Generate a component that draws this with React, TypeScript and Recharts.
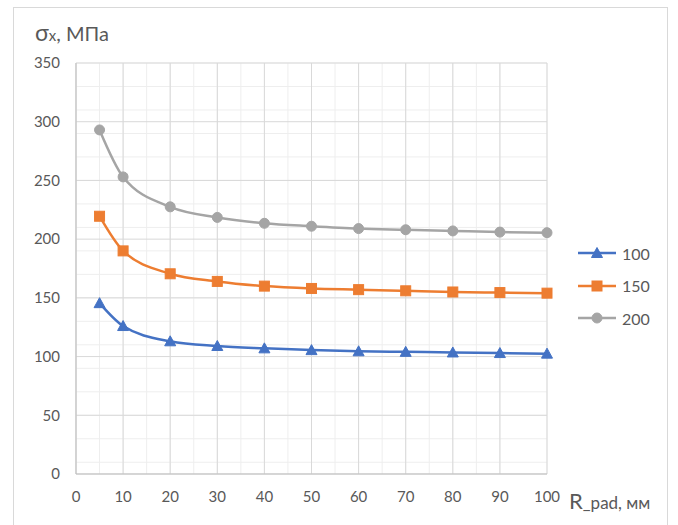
import React from 'react';
import { LineChart, Line, XAxis, YAxis, CartesianGrid } from 'recharts';

const rPad = [5, 10, 20, 30, 40, 50, 60, 70, 80, 90, 100];
const s100 = [145.5, 126, 113, 109, 107, 105.5, 104.5, 104, 103.5, 103, 102.5];
const s150 = [219.5, 190, 170.5, 164, 160, 158, 157, 156, 155, 154.5, 154];
const s200 = [293, 253, 227.5, 218.5, 213.5, 211, 209, 208, 207, 206, 205.5];

const xTicks = [0, 10, 20, 30, 40, 50, 60, 70, 80, 90, 100];
const yTicks = [0, 50, 100, 150, 200, 250, 300, 350];
const xMinor = [0, 5, 10, 15, 20, 25, 30, 35, 40, 45, 50, 55, 60, 65, 70, 75, 80, 85, 90, 95, 100];
const yMinor = [0, 10, 20, 30, 40, 50, 60, 70, 80, 90, 100, 110, 120, 130, 140, 150, 160, 170, 180, 190, 200, 210, 220, 230, 240, 250, 260, 270, 280, 290, 300, 310, 320, 330, 340, 350];

const seriesNames = ['100', '150', '200'];
const colors = ['#4472C4', '#ED7D31', '#A5A5A5'];

const data = rPad.map((r, i) => ({ r, a: s100[i], b: s150[i], c: s200[i] }));

const FONT = 'Lato, "Open Sans", sans-serif';
const TEXT = '#595959';

function Marker({ kind, cx, cy, color }: { kind: number; cx: number; cy: number; color: string }) {
  if (kind === 0) {
    return <polygon points={`${cx},${cy - 5.5} ${cx + 5.5},${cy + 4.5} ${cx - 5.5},${cy + 4.5}`} fill={color} stroke={color} strokeWidth={1} />;
  }
  if (kind === 1) {
    return <rect x={cx - 5} y={cy - 5} width={10} height={10} fill={color} stroke={color} strokeWidth={1} />;
  }
  return <circle cx={cx} cy={cy} r={5} fill={color} stroke={color} strokeWidth={1} />;
}

const makeDot = (kind: number) => (props: any) => (
  <Marker key={`m-${kind}-${props.index}`} kind={kind} cx={props.cx} cy={props.cy} color={colors[kind]} />
);

export default function App() {
  return (
    <div style={{ position: 'absolute', left: 0, top: 0, width: 678, height: 525, background: '#fff', overflow: 'hidden', fontFamily: FONT }}>
      <div style={{ position: 'absolute', left: 13, top: 7, width: 653, height: 540, border: '1px solid #d9d9d9' }} />
      <div style={{ position: 'absolute', left: 35, top: 18, color: TEXT, fontSize: 20, whiteSpace: 'nowrap' }}>
        <span style={{ fontSize: 23 }}>σ</span><span style={{ fontSize: 15 }}>x</span>, МПа
      </div>
      <div style={{ position: 'absolute', left: 569, top: 487, color: TEXT, fontSize: 17, whiteSpace: 'nowrap' }}>
        <span style={{ fontSize: 22 }}>R</span>_pad, мм
      </div>
      <LineChart
        width={678}
        height={525}
        data={data}
        margin={{ top: 63, right: 131, bottom: 21, left: 36 }}
        style={{ position: 'absolute', left: 0, top: 0 }}
      >
        <CartesianGrid stroke="#eeeeee" verticalValues={xMinor} horizontalValues={yMinor} />
        <CartesianGrid stroke="#d9d9d9" />
        <XAxis
          dataKey="r"
          type="number"
          domain={[0, 100]}
          ticks={xTicks}
          height={30}
          tickSize={0}
          tickMargin={17}
          axisLine={{ stroke: '#bfbfbf' }}
          tick={{ fill: TEXT, fontSize: 15, fontFamily: FONT }}
        />
        <YAxis
          type="number"
          domain={[0, 350]}
          ticks={yTicks}
          width={40}
          tickSize={0}
          tickMargin={16}
          axisLine={{ stroke: '#bfbfbf' }}
          tick={{ fill: TEXT, fontSize: 15, fontFamily: FONT }}
        />
        {['a', 'b', 'c'].map((k, i) => (
          <Line
            key={k}
            dataKey={k}
            name={seriesNames[i]}
            type="monotone"
            stroke={colors[i]}
            strokeWidth={2.5}
            dot={makeDot(i)}
            isAnimationActive={false}
          />
        ))}
      </LineChart>
      <div style={{ position: 'absolute', left: 578, top: 237 }}>
        {seriesNames.map((n, i) => (
          <div key={n} style={{ display: 'flex', alignItems: 'center', height: 32.5 }}>
            <svg width={40} height={14}>
              <line x1={0} y1={7} x2={38} y2={7} stroke={colors[i]} strokeWidth={2.5} />
              <Marker kind={i} cx={19} cy={7} color={colors[i]} />
            </svg>
            <span style={{ color: TEXT, fontSize: 16, marginLeft: 4 }}>{n}</span>
          </div>
        ))}
      </div>
    </div>
  );
}
